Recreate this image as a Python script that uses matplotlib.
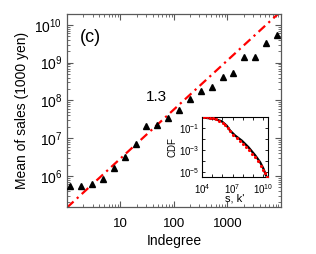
import numpy as np
import matplotlib.pyplot as plt
from matplotlib.ticker import LogLocator, NullFormatter, NullLocator, FixedLocator, FixedFormatter

plt.rcParams['font.family'] = ['Liberation Sans', 'DejaVu Sans']
plt.rcParams['mathtext.default'] = 'regular'

# mean sales per indegree bin
indegree = [1.14, 1.8, 2.9, 4.7, 7.6, 12, 19.5, 30, 48, 77,
            124, 200, 318, 513, 826, 1270, 2040, 3250, 5240, 8460]
mean_sales = [5.4e5, 5.4e5, 6.2e5, 8.3e5, 1.6e6, 3.2e6, 7.0e6, 2.1e7, 2.2e7, 3.5e7,
              5.6e7, 1.1e8, 1.8e8, 2.3e8, 4.2e8, 5.4e8, 1.4e9, 1.4e9, 3.3e9, 5.5e9]

# fitted power law
slope = 1.3
prefactor = 1.45e5
fit_x = [1, 1e4]

# inset: CDF of sales (black) and rescaled indegree (red)
cdf_s_x = [1e4, 1.9e5, 8.7e5, 2.7e6, 5.8e6, 1.8e7, 8.1e7, 3.6e8, 1.7e9, 5.1e9, 1.1e10, 1.9e10]
cdf_s_y = [1.0, 0.69, 0.43, 0.17, 0.060, 0.021, 7.2e-3, 1.8e-3, 3.1e-4, 7.4e-5, 1.8e-5, 4.5e-6]
cdf_k_x = [1.5e4, 3e4, 6e4, 1.2e5, 2.5e5, 5e5, 1.1e6, 2e6, 3.5e6, 6e6, 1.2e7, 2.5e7,
           5e7, 1e8, 2e8, 4e8, 8e8, 1.5e9, 3e9, 6e9, 1e10, 1.6e10, 2.2e10]
cdf_k_y = [1.0, 0.98, 0.95, 0.85, 0.68, 0.5, 0.33, 0.2, 0.1, 0.05, 0.025, 0.012,
           6e-3, 3.5e-3, 1.9e-3, 9e-4, 4e-4, 2e-4, 9e-5, 3.5e-5, 1.5e-5, 7e-6, 3.5e-6]

fig = plt.figure(figsize=(3.16, 2.54), dpi=100)
ax = fig.add_axes([0.212, 0.185, 0.677, 0.76])

fx = np.array(fit_x)
ax.plot(fx, prefactor * fx**slope, color='red', lw=1.6, linestyle=(0, (4, 2, 1, 2)), zorder=2)
ax.plot(indegree, mean_sales, '^', color='black', ms=5, zorder=3)

ax.set_xscale('log')
ax.set_yscale('log')
ax.set_xlim(1, 1e4)
ax.set_ylim(1.5e5, 1.95e10)

ax.xaxis.set_major_locator(FixedLocator([10, 100, 1000]))
ax.xaxis.set_major_formatter(FixedFormatter(['10', '100', '1000']))
ax.xaxis.set_minor_locator(LogLocator(base=10, subs=np.arange(2, 10), numticks=20))
ax.xaxis.set_minor_formatter(NullFormatter())
ax.yaxis.set_major_locator(FixedLocator([1e6, 1e7, 1e8, 1e9, 1e10]))
ax.yaxis.set_minor_locator(LogLocator(base=10, subs=np.arange(2, 10), numticks=20))
ax.yaxis.set_minor_formatter(NullFormatter())

ax.tick_params(which='both', direction='in', top=True, right=True, labelsize=10, color='0.35')
ax.tick_params(which='major', length=4, width=0.8)
ax.tick_params(which='minor', length=2, width=0.6)
ax.tick_params(axis='x', labelsize=9.5, pad=8)
for s in ax.spines.values():
    s.set_color('0.35')
    s.set_linewidth(0.9)

ax.set_xlabel('Indegree', fontsize=10, labelpad=3)
ax.set_ylabel('Mean of sales (1000 yen)', fontsize=10, labelpad=4)
ax.text(0.06, 0.855, '(c)', transform=ax.transAxes, fontsize=13)
ax.text(48, 1.2e8, '1.3', fontsize=11, ha='center', va='center')

# inset
ins = fig.add_axes([0.639, 0.303, 0.209, 0.236])
ins.plot(cdf_s_x, cdf_s_y, color='black', lw=1.6, zorder=2)
ins.plot(cdf_k_x, cdf_k_y, '.', color='red', ms=2.5, zorder=3)
ins.set_xscale('log')
ins.set_yscale('log')
ins.set_xlim(1e4, 3e10)
ins.set_ylim(10**-5.5, 1.05)
ins.set_xticks([1e4, 1e5, 1e6, 1e7, 1e8, 1e9, 1e10])
ins.set_xticklabels(['$10^{4}$', '', '', '$10^{7}$', '', '', '$10^{10}$'])
ins.set_yticks([1e-5, 1e-4, 1e-3, 1e-2, 1e-1])
ins.set_yticklabels(['$10^{-5}$', '', '$10^{-3}$', '', '$10^{-1}$'])
ins.xaxis.set_minor_locator(NullLocator())
ins.yaxis.set_minor_locator(NullLocator())
ins.tick_params(which='both', direction='in', top=True, right=True, labelsize=7,
                length=2, width=0.6, pad=2)
ins.tick_params(axis='x', pad=4)
ins.set_xlabel("s, k'", fontsize=8, labelpad=-2)
ins.set_ylabel('CDF', fontsize=7, labelpad=1)

fig.savefig('out.png', dpi=100)
